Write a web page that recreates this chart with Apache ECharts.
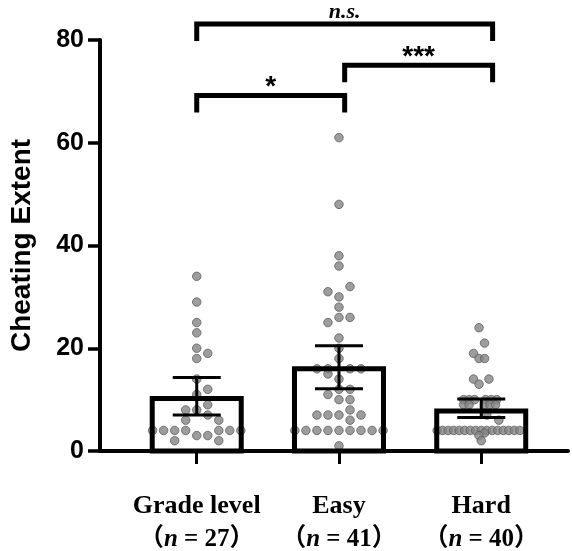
<!DOCTYPE html>
<html>
<head>
<meta charset="utf-8">
<script src="https://cdn.jsdelivr.net/npm/echarts@6/dist/echarts.min.js"></script>
<style>
html, body { margin: 0; padding: 0; background: #fff; }
#chart { width: 572px; height: 551px; }
</style>
</head>
<body>
<div id="chart"></div>
<script>
// groups and summary values
var groupNames = ['Grade level', 'Easy', 'Hard'];
var groupN = [27, 41, 40];
var barMeans = [10.2, 16.0, 7.8];
var errLow = [7.0, 12.1, 6.5];
var errHigh = [14.3, 20.5, 10.1];
var yTicks = [0, 20, 40, 60, 80];

// individual points (value) and their swarm slot
var gradeValues = [34, 29, 25, 23, 20, 19, 18, 14, 12, 11, 9, 8, 8, 7, 6, 6, 4, 4, 4, 4, 4, 4, 4, 3, 3, 2, 2];
var gradeSlots = [0, 0, 0, 0, 0, 1, 0, 0, 1, 0, 1, -1, 0, 1, -1, 2, -4, -3, -2, -1, 2, 3, 4, 0, 1, -2, 2];
var easyValues = [61, 48, 38, 36, 32, 31, 30, 28, 26, 26, 25, 22, 20, 18, 16, 16, 16, 16, 15, 14, 12, 12, 11, 10, 10, 8, 7, 7, 7, 7, 6, 4, 4, 4, 4, 4, 4, 4, 4, 4, 1];
var easySlots = [0, 0, 0, 0, 1, -1, 0, 0, 0, 1, -1, 0, 0, 0, -2, -1, 1, 2, -1, 0, 0, 1, -1, 0, 1, 1, -2, -1, 0, 2, 1, -4, -3, -2, -1, 0, 1, 2, 3, 4, 0];
var hardValues = [24, 21, 19, 18, 18, 14, 14, 13, 10, 10, 10, 10, 10, 10, 9, 9, 9, 9, 9, 7, 6, 4, 4, 4, 4, 4, 4, 4, 4, 4, 4, 4, 4, 4, 4, 4, 4, 3.5, 3, 2];
var hardSlots = [-0.2, 0.3, -0.7, -0.2, 0.3, -0.7, 0.7, -0.2, -1.6, -1.1, -0.6, 0.4, 0.9, 1.4, -1.6, -1.1, 0.3, 0.8, 1.3, 0.5, 1.6, -4, -3.5, -3, -2.5, -2, -1.5, -1, -0.5, 0, 0.5, 1, 1.5, 2, 2.5, 3, 3.5, 0.3, -0.2, 0];

// significance brackets
var sigLabels = ['*', '***', 'n.s.'];
var sigFrom = [0, 1.04, 0];
var sigTo = [1.04, 2.08, 2.08];
var sigLevel = [69.2, 75.1, 83.1];

var DOT_STEP = 0.0775;

var chart = echarts.init(document.getElementById('chart'));

var dots = [];
[[gradeValues, gradeSlots], [easyValues, easySlots], [hardValues, hardSlots]].forEach(function (g, gi) {
    g[0].forEach(function (v, i) {
        dots.push([gi + g[1][i] * DOT_STEP, v]);
    });
});

var bars = barMeans.map(function (m, i) {
    return [i, m, errLow[i], errHigh[i]];
});

var brackets = sigLabels.map(function (s, i) {
    return [sigFrom[i], sigTo[i], sigLevel[i], i];
});

function renderBar(params, api) {
    var x = api.value(0);
    var top = api.coord([x, api.value(1)]);
    var base = api.coord([x, 0]);
    var lo = api.coord([x, api.value(2)]);
    var hi = api.coord([x, api.value(3)]);
    var half = 44.5, cap = 24;
    var line = { stroke: '#000', lineWidth: 3 };
    return {
        type: 'group',
        children: [
            { type: 'rect', shape: { x: top[0] - half, y: top[1], width: half * 2, height: base[1] - top[1] },
              style: { fill: 'none', stroke: '#000', lineWidth: 5 } },
            { type: 'line', shape: { x1: lo[0], y1: lo[1], x2: hi[0], y2: hi[1] }, style: line },
            { type: 'line', shape: { x1: hi[0] - cap, y1: hi[1], x2: hi[0] + cap, y2: hi[1] }, style: line },
            { type: 'line', shape: { x1: lo[0] - cap, y1: lo[1], x2: lo[0] + cap, y2: lo[1] }, style: line }
        ]
    };
}

function renderBracket(params, api) {
    var p1 = api.coord([api.value(0), api.value(2)]);
    var p2 = api.coord([api.value(1), api.value(2)]);
    var label = sigLabels[api.value(3)];
    var stars = label.indexOf('*') >= 0;
    var leg = 17;
    return {
        type: 'group',
        children: [
            { type: 'polyline',
              shape: { points: [[p1[0], p1[1] + leg], [p1[0], p1[1]], [p2[0], p2[1]], [p2[0], p2[1] + leg]] },
              style: { fill: 'none', stroke: '#000', lineWidth: 5, lineJoin: 'miter' } },
            { type: 'text',
              style: {
                  text: label,
                  x: (p1[0] + p2[0]) / 2,
                  y: p1[1] - (stars ? 8 : 12),
                  align: 'center',
                  verticalAlign: 'middle',
                  fill: '#000',
                  font: stars ? 'bold 28px "Liberation Sans"' : 'italic bold 22px "Liberation Serif"'
              } }
        ]
    };
}

var option = {
    animation: false,
    grid: { left: 100, right: 4, top: 40, bottom: 100, outerBoundsMode: 'none' },
    xAxis: {
        type: 'value',
        min: -0.68,
        max: 2.61,
        axisLine: { show: true, onZero: false, lineStyle: { color: '#000', width: 4 } },
        axisTick: { show: true, customValues: [0, 1, 2], length: 13, lineStyle: { color: '#000', width: 3 } },
        axisLabel: {
            customValues: [0, 1, 2],
            margin: 38,
            formatter: function (v) {
                var i = Math.round(v);
                return '{b|' + groupNames[i] + '}\n{p|（}{n|n}{p| = ' + groupN[i] + '）}';
            },
            rich: {
                b: { fontFamily: '"Liberation Serif", serif', fontWeight: 'bold', fontSize: 26, lineHeight: 34, color: '#000' },
                p: { fontFamily: '"Liberation Serif", "Noto Sans CJK SC", serif', fontWeight: 'bold', fontSize: 25, lineHeight: 34, color: '#000' },
                n: { fontFamily: '"Liberation Serif", serif', fontWeight: 'bold', fontStyle: 'italic', fontSize: 25, lineHeight: 34, color: '#000' }
            }
        },
        splitLine: { show: false }
    },
    yAxis: {
        type: 'value',
        min: yTicks[0],
        max: yTicks[yTicks.length - 1],
        interval: yTicks[1] - yTicks[0],
        name: 'Cheating Extent',
        nameLocation: 'middle',
        nameGap: 64,
        nameTextStyle: { fontFamily: '"Liberation Sans"', fontWeight: 'bold', fontSize: 28, color: '#000' },
        axisLine: { show: true, onZero: false, lineStyle: { color: '#000', width: 4 } },
        axisTick: { show: true, length: 12, lineStyle: { color: '#000', width: 3.5 } },
        axisLabel: { fontFamily: '"Liberation Sans"', fontWeight: 'bold', fontSize: 25, color: '#000', margin: 16 },
        splitLine: { show: false }
    },
    series: [
        {
            type: 'scatter',
            data: dots,
            symbolSize: 8.5,
            itemStyle: { color: '#858585', borderColor: '#5e5e5e', borderWidth: 1 },
            z: 2
        },
        {
            type: 'custom',
            data: bars,
            renderItem: renderBar,
            encode: { x: 0, y: 1 },
            clip: false,
            z: 3
        },
        {
            type: 'custom',
            data: brackets,
            renderItem: renderBracket,
            encode: { x: [0, 1], y: 2 },
            clip: false,
            z: 3
        }
    ]
};

chart.setOption(option);
window.addEventListener('resize', function () {
    chart.resize();
});
</script>
</body>
</html>
